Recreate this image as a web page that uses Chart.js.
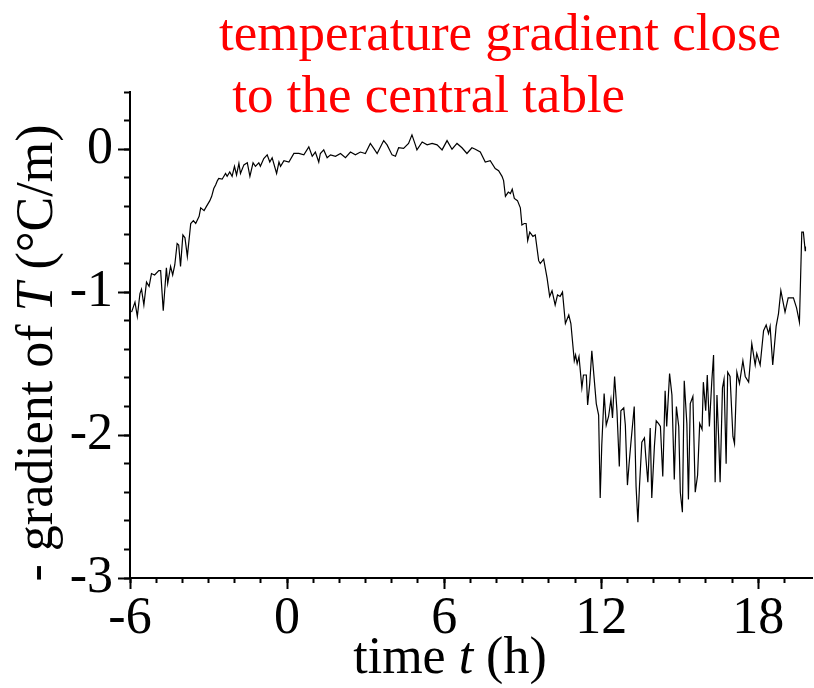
<!DOCTYPE html>
<html>
<head>
<meta charset="utf-8">
<script src="https://cdn.jsdelivr.net/npm/chart.js@4.4.0/dist/chart.umd.min.js"></script>
<style>
html,body{margin:0;padding:0;background:#fff;}
#wrap{width:814px;height:688px;}
</style>
</head>
<body>
<div id="wrap"><canvas id="c" width="814" height="688"></canvas></div>
<script>
// ---- data ----
const timeHours = [
-5.94,-5.81,-5.72,-5.62,-5.56,-5.47,-5.37,-5.27,-5.18,-5.06,-4.90,-4.83,-4.73,-4.61,-4.56,-4.45,-4.37,-4.29,-4.20,-4.14,
-4.07,-3.98,-3.90,-3.81,-3.68,-3.58,-3.49,-3.36,-3.30,-3.17,-3.08,-2.95,-2.88,-2.80,-2.73,-2.66,-2.61,-2.48,-2.35,-2.29,
-2.19,-2.10,-2.01,-1.93,-1.84,-1.78,-1.65,-1.52,-1.42,-1.30,-1.21,-1.08,-1.02,-0.89,-0.76,-0.66,-0.57,-0.40,-0.31,-0.25,
-0.12,0.07,0.26,0.45,0.64,0.83,0.96,1.08,1.21,1.27,1.40,1.53,1.66,1.85,2.04,2.23,2.42,2.61,2.80,2.99,
3.18,3.31,3.44,3.69,3.82,4.01,4.14,4.26,4.45,4.64,4.77,4.90,4.96,5.16,5.35,5.54,5.73,5.92,6.11,6.30,
6.49,6.68,6.87,7.06,7.19,7.38,7.57,7.76,7.95,8.08,8.21,8.27,8.34,8.45,8.53,8.60,8.68,8.80,8.91,8.97,
9.06,9.13,9.19,9.27,9.39,9.48,9.61,9.67,9.80,9.93,10.03,10.12,10.24,10.33,10.43,10.52,10.63,10.76,10.84,10.97,
11.02,11.08,11.15,11.26,11.32,11.43,11.48,11.56,11.64,11.81,11.90,11.96,12.02,12.11,12.19,12.28,12.37,12.43,12.51,12.60,
12.69,12.75,12.86,12.92,13.00,13.06,13.13,13.26,13.33,13.40,13.46,13.55,13.65,13.70,13.78,13.87,13.93,14.03,14.10,14.19,
14.26,14.35,14.44,14.50,14.61,14.70,14.79,14.87,14.96,15.02,15.10,15.17,15.27,15.33,15.40,15.50,15.59,15.68,15.76,15.85,
15.90,15.99,16.05,16.13,16.22,16.29,16.35,16.42,16.48,16.54,16.63,16.69,16.77,16.83,16.92,17.03,17.09,17.18,17.28,17.41,
17.50,17.63,17.75,17.88,17.94,18.07,18.20,18.30,18.39,18.45,18.55,18.68,18.77,18.86,19.02,19.14,19.34,19.46,19.57,19.66,
19.72,19.79,19.80
];
const negGradient = [
-1.14,-1.07,-1.17,-1.01,-0.98,-1.09,-0.93,-0.96,-0.87,-0.88,-0.85,-0.85,-1.13,-0.83,-0.94,-0.82,-0.88,-0.81,-0.66,-0.67,
-0.82,-0.60,-0.62,-0.75,-0.52,-0.50,-0.52,-0.47,-0.41,-0.43,-0.40,-0.36,-0.33,-0.275,-0.25,-0.22,-0.205,-0.21,-0.17,-0.19,
-0.16,-0.19,-0.12,-0.18,-0.10,-0.17,-0.11,-0.095,-0.19,-0.095,-0.12,-0.095,-0.12,-0.065,-0.04,-0.09,-0.06,-0.17,-0.09,-0.12,
-0.08,-0.09,-0.03,-0.03,-0.04,0.016,-0.05,-0.02,-0.09,-0.03,-0.005,-0.06,-0.04,-0.05,-0.03,-0.06,-0.02,-0.04,-0.02,-0.03,
0.04,0.005,-0.03,0.06,0.03,-0.04,-0.05,0.01,0.005,0.04,0.10,0.03,-0.005,0.05,0.03,0.04,0.03,-0.005,0.06,0.00,
0.04,0.01,-0.03,0.01,0.00,-0.02,-0.09,-0.08,-0.135,-0.15,-0.19,-0.22,-0.33,-0.30,-0.31,-0.28,-0.345,-0.36,-0.41,-0.53,
-0.52,-0.52,-0.64,-0.58,-0.61,-0.60,-0.78,-0.80,-0.77,-0.90,-1.03,-0.99,-1.09,-1.02,-1.03,-1.00,-1.22,-1.16,-1.22,-1.48,
-1.44,-1.50,-1.45,-1.67,-1.58,-1.58,-1.79,-1.64,-1.41,-1.78,-1.86,-2.44,-2.07,-1.71,-1.93,-1.87,-1.75,-1.88,-1.59,-1.83,
-2.22,-1.83,-1.81,-1.93,-2.35,-2.21,-2.06,-1.80,-2.36,-2.61,-2.36,-2.05,-2.02,-2.15,-2.33,-1.95,-2.44,-2.08,-1.90,-1.92,
-1.94,-2.29,-1.69,-1.94,-1.57,-1.72,-2.31,-1.80,-1.94,-2.40,-2.54,-1.62,-1.92,-2.45,-1.78,-1.73,-2.40,-2.28,-1.92,-1.96,
-1.63,-1.83,-1.58,-1.94,-1.63,-1.44,-2.33,-1.72,-2.00,-2.33,-1.67,-1.61,-2.20,-1.56,-1.59,-2.01,-2.06,-1.56,-1.64,-1.48,
-1.59,-1.63,-1.36,-1.51,-1.43,-1.51,-1.27,-1.23,-1.29,-1.24,-1.51,-1.24,-1.15,-0.99,-1.14,-1.04,-1.04,-1.11,-1.21,-0.58,
-0.58,-0.71,-0.68
];
const xMajorTicks = [-6, 0, 6, 12, 18];
const yMajorTicks = [0, -1, -2, -3];
const titleLines = ['temperature gradient close', ' to the central table'];
const xTitleParts = [['time ', false], ['t', true], [' (h)', false]];
const yTitleParts = [['- gradient of ', false], ['T', true], [' (\u00B0C/m)', false]];

// ---- drawing ----
const SERIF = '"Liberation Serif", "Times New Roman", serif';
const X_MIN = -6, X_MAX = 20.05, Y_MIN = -3, Y_MAX = 0.4;
const xMinorTicks = [];
for (let v = X_MIN; v <= 19; v += 1) xMinorTicks.push(v);
const yMinorTicks = [];
for (let k = 0; k <= 17; k++) yMinorTicks.push(Math.round((Y_MIN + 0.2 * k) * 10) / 10);

function drawParts(ctx, parts, size) {
  let total = 0;
  const widths = parts.map(([txt, it]) => {
    ctx.font = (it ? 'italic ' : '') + size + 'px ' + SERIF;
    const w = ctx.measureText(txt).width; total += w; return w;
  });
  let x = -total / 2;
  parts.forEach(([txt, it], i) => {
    ctx.font = (it ? 'italic ' : '') + size + 'px ' + SERIF;
    ctx.fillText(txt, x, 0);
    x += widths[i];
  });
}

const textPlugin = {
  id: 'texts',
  afterDraw(chart) {
    const ctx = chart.ctx;
    const a = chart.chartArea;
    ctx.save();
    ctx.textBaseline = 'alphabetic';
    ctx.textAlign = 'left';
    // title (red)
    ctx.fillStyle = '#ff0000';
    ctx.font = '53px ' + SERIF;
    ctx.fillText(titleLines[0], 219, 50);
    ctx.fillText(titleLines[1], 219, 112);
    // x title
    ctx.fillStyle = '#000';
    ctx.save();
    ctx.translate(450, 673);
    drawParts(ctx, xTitleParts, 52);
    ctx.restore();
    // y title
    ctx.save();
    ctx.translate(52, 353);
    ctx.rotate(-Math.PI / 2);
    drawParts(ctx, yTitleParts, 52);
    ctx.restore();
    ctx.restore();
  }
};

const tickFont = { family: SERIF, size: 52 };

new Chart(document.getElementById('c'), {
  type: 'line',
  data: {
    datasets: [{
      data: timeHours.map((t, i) => ({ x: t, y: negGradient[i] })),
      borderColor: '#000',
      borderWidth: 1.2,
      pointRadius: 0,
      tension: 0,
      fill: false,
      xAxisID: 'x',
      yAxisID: 'y'
    }]
  },
  options: {
    responsive: false,
    animation: false,
    devicePixelRatio: 1,
    layout: { padding: { top: 92, right: 2, left: 0, bottom: 0 } },
    plugins: { legend: { display: false }, tooltip: { enabled: false }, title: { display: false } },
    scales: {
      x: {
        type: 'linear', position: 'bottom', min: X_MIN, max: X_MAX, weight: 10,
        afterBuildTicks: s => { s.ticks = xMajorTicks.map(v => ({ value: v })); },
        afterFit: s => { s.height = 110; },
        ticks: { font: tickFont, color: '#000', padding: -1, maxRotation: 0, autoSkip: false,
                 callback: v => String(v) },
        grid: { drawOnChartArea: false, drawTicks: true, tickLength: 11, tickWidth: 2, tickColor: '#000' },
        border: { display: true, color: '#000', width: 2 }
      },
      xMinor: {
        type: 'linear', position: 'bottom', min: X_MIN, max: X_MAX, weight: 0,
        afterBuildTicks: s => { s.ticks = xMinorTicks.map(v => ({ value: v })); },
        afterFit: s => { s.height = 0; },
        ticks: { display: false },
        grid: { drawOnChartArea: false, drawTicks: true, tickLength: 5, tickWidth: 2, tickColor: '#000' },
        border: { display: false }
      },
      y: {
        type: 'linear', position: 'left', min: Y_MIN, max: Y_MAX, weight: 10,
        afterBuildTicks: s => { s.ticks = yMajorTicks.map(v => ({ value: v })); },
        afterFit: s => { s.width = 130; },
        ticks: { font: tickFont, color: '#000', padding: 5, autoSkip: false,
                 callback: v => String(v) },
        grid: { drawOnChartArea: false, drawTicks: true, tickLength: 12, tickWidth: 2, tickColor: '#000' },
        border: { display: true, color: '#000', width: 2 }
      },
      yMinor: {
        type: 'linear', position: 'left', min: Y_MIN, max: Y_MAX, weight: 0,
        afterBuildTicks: s => { s.ticks = yMinorTicks.map(v => ({ value: v })); },
        afterFit: s => { s.width = 0; },
        ticks: { display: false },
        grid: { drawOnChartArea: false, drawTicks: true, tickLength: 6, tickWidth: 2, tickColor: '#000' },
        border: { display: false }
      }
    }
  },
  plugins: [textPlugin]
});
</script>
</body>
</html>
